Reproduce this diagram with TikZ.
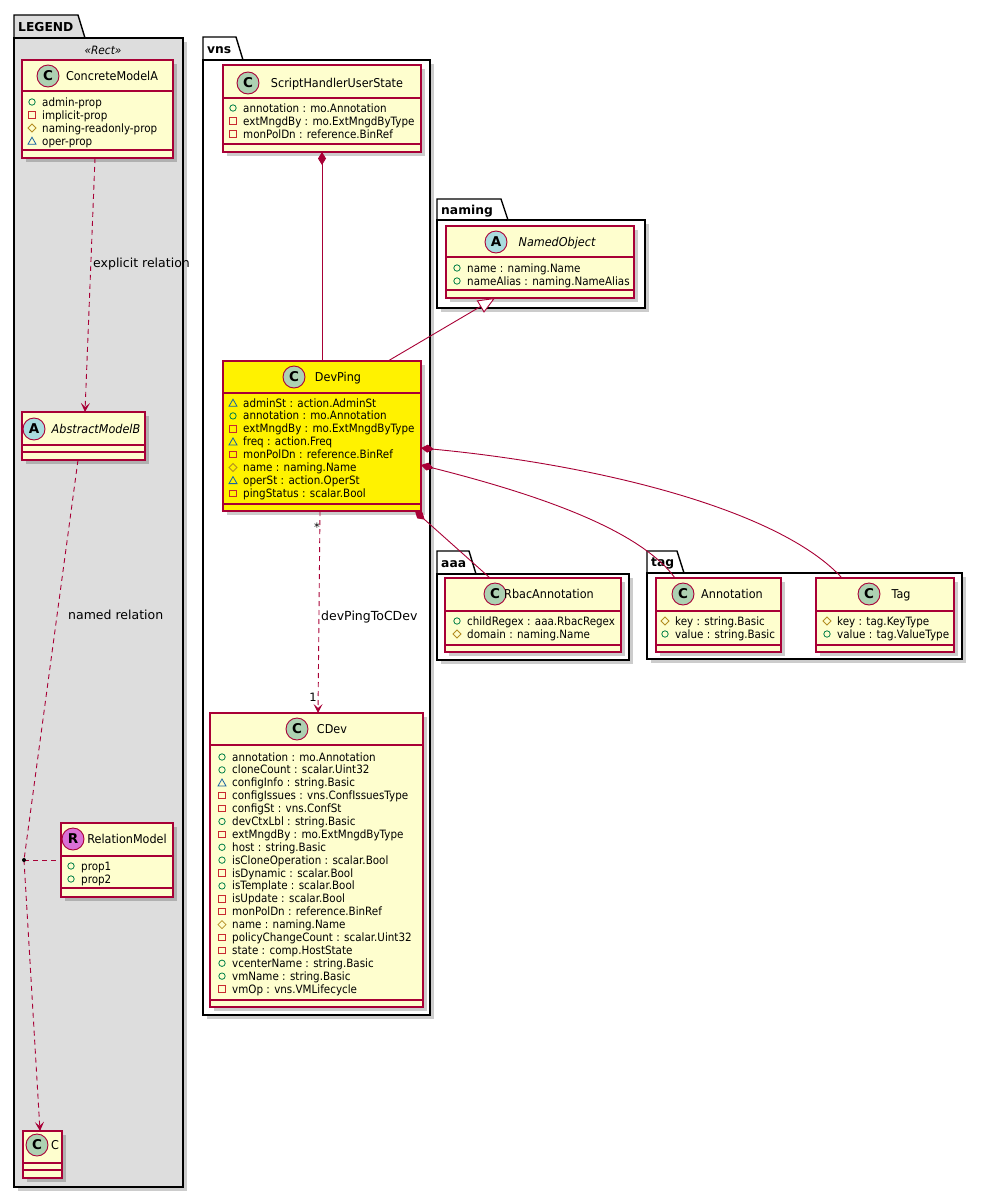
\documentclass[tikz,border=0pt]{standalone}
\usepackage{fontspec}
\setmainfont{DejaVu Sans}
\newfontfamily\attrfont[FakeStretch=0.9]{DejaVu Sans}
\newfontfamily\namefont[FakeStretch=0.92]{DejaVu Sans}
\usetikzlibrary{arrows.meta,calc}
\definecolor{umlborder}{HTML}{A80036}
\definecolor{umlfill}{HTML}{FEFECE}
\definecolor{cgreen}{HTML}{ADD1B2}
\definecolor{ablue}{HTML}{A9DCDF}
\definecolor{rpink}{HTML}{DA70D6}
\definecolor{legendgray}{HTML}{DDDDDD}
\definecolor{pubcol}{HTML}{038048}
\definecolor{privcol}{HTML}{C82930}
\definecolor{protcol}{HTML}{B38D22}
\definecolor{pkgcol}{HTML}{1963A0}
\newcounter{attrn}
\newcommand\umlclass[8]{%
  \fill[shadowfill] (#2+4,#3+4) rectangle (#4+4,#5+4);
  \node[classbox, fill=#8, anchor=north west, minimum width=#4-#2, minimum height=#5-#3] (#1) at (#2,#3) {};
  \draw[sepline] (#2,#6) -- (#4,#6);
  \draw[sepline] (#2,#7) -- (#4,#7);
}
\newcommand\umlpkg[9]{%
  \fill[shadowfill] (#2+4,#5+4) rectangle (#6+4,#7+4);
  \draw[pkgline, fill=#8] (#2,#5) -- (#2,#3) -- (#4,#3) -- (#4+7,#5) -- cycle;
  \node[pkgline, draw, fill=#8, anchor=north west, inner sep=0, outer sep=0, minimum width=#6-#2, minimum height=#7-#5] (#1) at (#2,#5) {};
  \node[pkgtitle] (#1t) at (#2+4,{(#3+#5)/2+4.5}) {#9};
}
\newcommand\attr[4]{%
  \stepcounter{attrn}%
  \pic at (#1,#2) {#3};
  \node[attrtext] (at\theattrn) at (#1+10,#2+4) {#4};
}
\begin{document}
\begin{tikzpicture}[x=1pt,y=-1pt,
  classbox/.style={draw=umlborder, line width=1.3pt, inner sep=0, outer sep=0, rectangle},
  sepline/.style={draw=umlborder, line width=1.2pt},
  shadowfill/.style={fill=black, opacity=0.2},
  pkgline/.style={draw=black, line width=1.4pt},
  headcircle/.style={circle, draw=umlborder, line width=0.9pt, minimum size=22pt, inner sep=0, font=\fontsize{13.5}{13}\bfseries\selectfont},
  classname/.style={font=\namefont\fontsize{12.2}{13}\selectfont, anchor=base, inner sep=0},
  attrtext/.style={font=\attrfont\fontsize{11.5}{13}\selectfont, anchor=base west, inner sep=0},
  pkgtitle/.style={font=\fontsize{12.3}{14}\bfseries\selectfont, anchor=base west, inner sep=0},
  edgelabel/.style={font=\fontsize{12.5}{14}\selectfont, anchor=base west, inner sep=0},
  multlabel/.style={font=\fontsize{11.5}{13}\selectfont, anchor=base, inner sep=0},
  conn/.style={draw=umlborder, line width=0.9pt},
  dashes/.style={dash pattern=on 5pt off 4pt},
  deptip/.style={-{Stealth[length=9pt,width=9pt,inset=4pt]}},
  comptip/.style={{Diamond[length=13pt,width=8pt,fill=umlborder]}-},
  pub/.pic={\draw[pubcol, line width=0.8pt] (0,0) circle[radius=3.2pt];},
  priv/.pic={\draw[privcol, line width=0.8pt] (-3.2,-3.2) rectangle (3.2,3.2);},
  prot/.pic={\draw[protcol, line width=0.8pt] (0,-4) -- (4,0) -- (0,4) -- (-4,0) -- cycle;},
  pkg/.pic={\draw[pkgcol, line width=0.8pt] (0,-3.8) -- (4,3.2) -- (-4,3.2) -- cycle;},
]
\fill[white] (0,0) rectangle (983,1197);
\useasboundingbox (0,0) rectangle (983,1197);

% ---------- packages ----------
\umlpkg{legend}{14}{15}{78}{38}{183}{1187}{legendgray}{LEGEND}
\umlpkg{vns}{203}{37}{236}{60}{430}{1015}{white}{vns}
\umlpkg{naming}{437}{199}{501}{220}{645}{308}{white}{naming}
\umlpkg{aaa}{437}{551}{469}{574}{629}{660}{white}{aaa}
\umlpkg{tag}{647}{551}{677}{573}{962}{659}{white}{tag}
\node[font=\namefont\fontsize{11.5}{13}\itshape\selectfont, anchor=base, inner sep=0] (stereo) at (103,54) {«Rect»};

% ---------- LEGEND classes ----------
\umlclass{concA}{22}{60}{173}{158}{91}{150}{umlfill}
\node[headcircle, fill=cgreen] (concAc) at (48,76) {C};
\node[classname] (concAn) at (112,80) {ConcreteModelA};
\foreach \k/\t [count=\i from 0] in {pub/{admin-prop}, priv/{implicit-prop}, prot/{naming-readonly-prop}, pkg/{oper-prop}} {\attr{32}{102+13*\i}{\k}{\t}}

\umlclass{absB}{22}{412}{145}{460}{445}{452}{umlfill}
\node[headcircle, fill=ablue] (absBc) at (34,429) {A};
\node[classname, font=\namefont\fontsize{12.2}{13}\itshape\selectfont] (absBn) at (96,433) {AbstractModelB};

\umlclass{relM}{61}{823}{173}{897}{856}{888}{umlfill}
\node[headcircle, fill=rpink] (relMc) at (73,839) {R};
\node[classname] (relMn) at (127,843) {RelationModel};
\foreach \k/\t [count=\i from 0] in {pub/{prop1}, pub/{prop2}} {\attr{71}{866+13*\i}{\k}{\t}}

\umlclass{cbox}{23}{1131}{62}{1178}{1163}{1170}{umlfill}
\node[headcircle, fill=cgreen] (cboxc) at (37,1145) {C};
\node[classname] (cboxn) at (55,1149) {C};

% ---------- vns classes ----------
\umlclass{shus}{223}{65}{421}{152}{98}{144}{umlfill}
\node[headcircle, fill=cgreen] (shusc) at (248,83) {C};
\node[classname] (shusn) at (337,87) {ScriptHandlerUserState};
\foreach \k/\t [count=\i from 0] in {pub/{annotation : mo.Annotation}, priv/{extMngdBy : mo.ExtMngdByType}, priv/{monPolDn : reference.BinRef}} {\attr{233}{108+13*\i}{\k}{\t}}

\umlclass{devping}{223}{361}{421}{511}{393}{504}{yellow}
\node[headcircle, fill=cgreen] (devpingc) at (294,377) {C};
\node[classname] (devpingn) at (338,381) {DevPing};
\foreach \k/\t [count=\i from 0] in {pkg/{adminSt : action.AdminSt}, pub/{annotation : mo.Annotation}, priv/{extMngdBy : mo.ExtMngdByType}, pkg/{freq : action.Freq}, priv/{monPolDn : reference.BinRef}, prot/{name : naming.Name}, pkg/{operSt : action.OperSt}, priv/{pingStatus : scalar.Bool}} {\attr{233}{403+12.9*\i}{\k}{\t}}

\umlclass{cdev}{210}{713}{423}{1007}{745}{1000}{umlfill}
\node[headcircle, fill=cgreen] (cdevc) at (297,729) {C};
\node[classname] (cdevn) at (332,733) {CDev};
\foreach \k/\t [count=\i from 0] in {pub/{annotation : mo.Annotation}, pub/{cloneCount : scalar.Uint32}, pkg/{configInfo : string.Basic}, priv/{configIssues : vns.ConfIssuesType}, priv/{configSt : vns.ConfSt}, pub/{devCtxLbl : string.Basic}, priv/{extMngdBy : mo.ExtMngdByType}, pub/{host : string.Basic}, pub/{isCloneOperation : scalar.Bool}, priv/{isDynamic : scalar.Bool}, pub/{isTemplate : scalar.Bool}, priv/{isUpdate : scalar.Bool}, priv/{monPolDn : reference.BinRef}, prot/{name : naming.Name}, priv/{policyChangeCount : scalar.Uint32}, priv/{state : comp.HostState}, pub/{vcenterName : string.Basic}, pub/{vmName : string.Basic}, priv/{vmOp : vns.VMLifecycle}} {\attr{222}{757+12.89*\i}{\k}{\t}}

% ---------- naming ----------
\umlclass{namedobj}{446}{226}{634}{298}{257}{290}{umlfill}
\node[headcircle, fill=ablue] (namedobjc) at (496,242) {A};
\node[classname, font=\namefont\fontsize{12.2}{13}\itshape\selectfont] (namedobjn) at (557,246) {NamedObject};
\foreach \k/\t [count=\i from 0] in {pub/{name : naming.Name}, pub/{nameAlias : naming.NameAlias}} {\attr{457}{268+13*\i}{\k}{\t}}

% ---------- aaa ----------
\umlclass{rbac}{445}{578}{621}{652}{611}{645}{umlfill}
\node[headcircle, fill=cgreen] (rbacc) at (495,594) {C};
\node[classname] (rbacn) at (549,598) {RbacAnnotation};
\foreach \k/\t [count=\i from 0] in {pub/{childRegex : aaa.RbacRegex}, prot/{domain : naming.Name}} {\attr{457}{621+13*\i}{\k}{\t}}

% ---------- tag ----------
\umlclass{annot}{656}{578}{781}{652}{611}{645}{umlfill}
\node[headcircle, fill=cgreen] (annotc) at (683,594) {C};
\node[classname] (annotn) at (732,598) {Annotation};
\foreach \k/\t [count=\i from 0] in {prot/{key : string.Basic}, pub/{value : string.Basic}} {\attr{665}{621+13*\i}{\k}{\t}}

\umlclass{tagc}{816}{578}{954}{652}{611}{645}{umlfill}
\node[headcircle, fill=cgreen] (tagcc) at (869,594) {C};
\node[classname] (tagcn) at (901,598) {Tag};
\foreach \k/\t [count=\i from 0] in {prot/{key : tag.KeyType}, pub/{value : tag.ValueType}} {\attr{827}{621+13*\i}{\k}{\t}}

% ---------- connectors ----------
\draw[conn, dashes, deptip] ([xshift=73pt]concA.south west) -- ([xshift=63pt]absB.north west);
\node[edgelabel] (lblexp) at (93,267) {explicit relation};

\coordinate (reldot) at (24,860);
\draw[conn, dashes] ([xshift=56pt]absB.south west) -- (reldot);
\draw[conn, dashes, deptip] (reldot) -- ([xshift=17pt]cbox.north west);
\draw[conn, dashes] (reldot) -- (reldot -| relM.west);
\fill[black] (reldot) circle[radius=2pt];
\node[edgelabel] (lblnamed) at (68,619) {named relation};

\draw[conn, comptip] ([xshift=99pt]shus.south west) -- ([xshift=99pt]devping.north west);

\draw[conn, -{Triangle[length=17pt,width=14pt,fill=white]}] ([xshift=165pt]devping.north west) -- ([xshift=49pt]namedobj.south west);

\draw[conn, dashes, deptip] ([xshift=97pt]devping.south west) -- ([xshift=108pt]cdev.north west);
\node[multlabel] (multstar) at (317,531) {*};
\node[multlabel] (multone) at (313,701) {1};
\node[edgelabel] (lbldev) at (321,620) {devPingToCDev};

\draw[conn, comptip] ([yshift=-87pt]devping.north east) .. controls (600,465) and (780,510) .. ([xshift=26pt]tagc.north west);
\draw[conn, comptip] ([yshift=-104pt]devping.north east) .. controls (540,495) and (640,530) .. ([xshift=19pt]annot.north west);
\draw[conn, comptip] ([xshift=192pt]devping.south west) -- ([xshift=45pt]rbac.north west);
\end{tikzpicture}
\end{document}
